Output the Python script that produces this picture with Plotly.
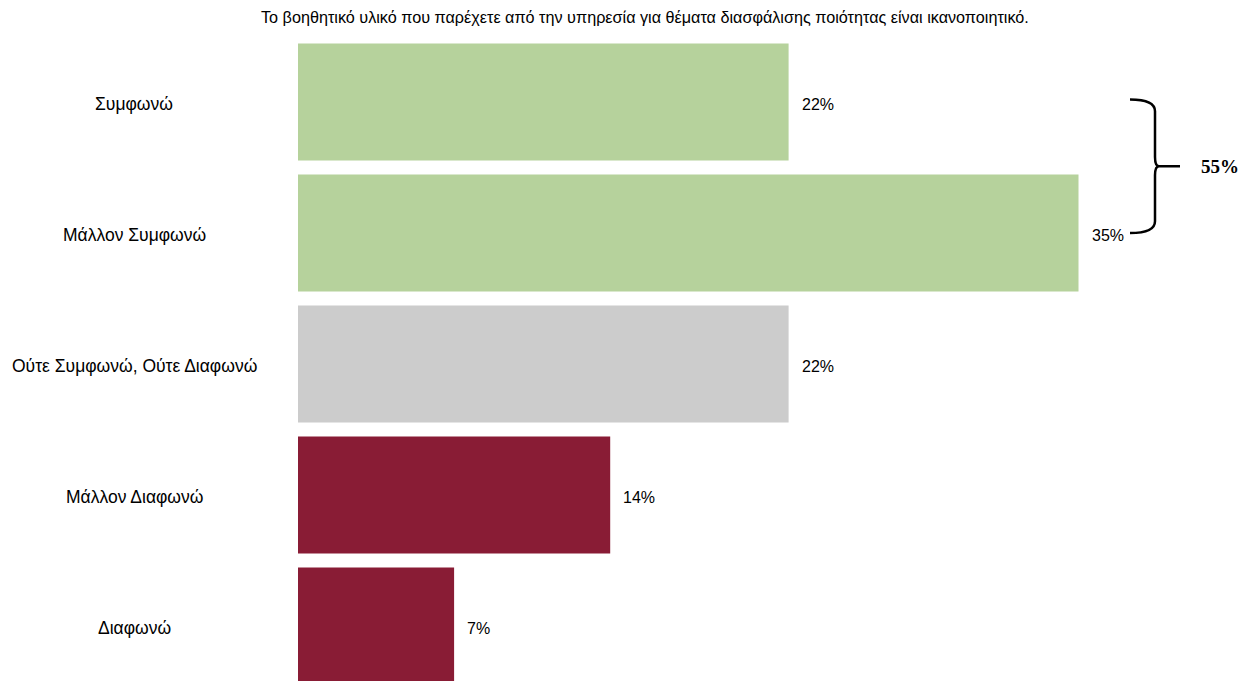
import plotly.graph_objects as go

# Survey responses (Greek Likert scale), top to bottom
categories = ["Συμφωνώ", "Μάλλον Συμφωνώ", "Ούτε Συμφωνώ, Ούτε Διαφωνώ", "Μάλλον Διαφωνώ", "Διαφωνώ"]
values = [22, 35, 22, 14, 7]
colors = ["#B6D29C", "#B6D29C", "#CCCCCC", "#891C35", "#891C35"]
value_labels = [f"{v}%" for v in values]
agree_total = "55%"
title = "Το βοηθητικό υλικό που παρέχετε από την υπηρεσία για θέματα διασφάλισης ποιότητας είναι ικανοποιητικό."

W, H = 1257, 681
positions = list(range(len(categories)))

fig = go.Figure()
fig.add_trace(go.Bar(
    x=values,
    y=positions,
    orientation="h",
    marker=dict(color=colors, line=dict(width=0)),
    width=0.893,
    hoverinfo="skip",
))

sans = "Liberation Sans, Arial, sans-serif"

# value labels to the right of each bar
for p, v, t in zip(positions, values, value_labels):
    fig.add_annotation(x=v, y=p, xref="x", yref="y", text=t, showarrow=False,
                       xanchor="left", yanchor="middle", xshift=11, yshift=-2,
                       font=dict(family=sans, size=16, color="#000000"))

# category labels, centred in the left column
for p, c in zip(positions, categories):
    fig.add_annotation(x=134 / W, y=p, xref="paper", yref="y", text=c, showarrow=False,
                       xanchor="center", yanchor="middle", yshift=-2,
                       font=dict(family=sans, size=17.5, color="#000000"))

# title
fig.add_annotation(x=645 / W, y=1 - 17 / H, xref="paper", yref="paper", text=title,
                   showarrow=False, xanchor="center", yanchor="middle",
                   font=dict(family=sans, size=16.2, color="#000000"))

# curly brace grouping the two "agree" bars
x0, xv, xm, xt = 1130 / W, 1155 / W, 1159 / W, 1180 / W
y_top, y_bot = -0.02, 1.0
y_mid = (y_top + y_bot) / 2
path = (
    f"M {x0},{y_top} Q {xv},{y_top} {xv},{y_top + 0.09} "
    f"L {xv},{y_mid - 0.07} Q {xv},{y_mid} {xm},{y_mid} L {xt},{y_mid} "
    f"M {xm},{y_mid} Q {xv},{y_mid} {xv},{y_mid + 0.07} "
    f"L {xv},{y_bot - 0.09} Q {xv},{y_bot} {x0},{y_bot}"
)
fig.add_shape(type="path", path=path, xref="paper", yref="y",
              line=dict(color="#000000", width=2.5))
fig.add_annotation(x=1199 / W, y=y_mid, xref="paper", yref="y", text="<b>" + agree_total + "</b>",
                   showarrow=False, xanchor="left", yanchor="middle",
                   font=dict(family="Liberation Serif, Times New Roman, serif", size=19, color="#000000"))

px_per_unit = 22.3
x_zero = 298
fig.update_layout(
    width=W, height=H,
    margin=dict(l=0, r=0, t=0, b=0),
    paper_bgcolor="#FFFFFF", plot_bgcolor="#FFFFFF",
    showlegend=False,
    xaxis=dict(range=[-x_zero / px_per_unit, (W - x_zero) / px_per_unit],
               visible=False, fixedrange=True),
    yaxis=dict(range=[-0.7786 + H / 131, -0.7786], visible=False, fixedrange=True),
)

fig.write_html("out.html")
